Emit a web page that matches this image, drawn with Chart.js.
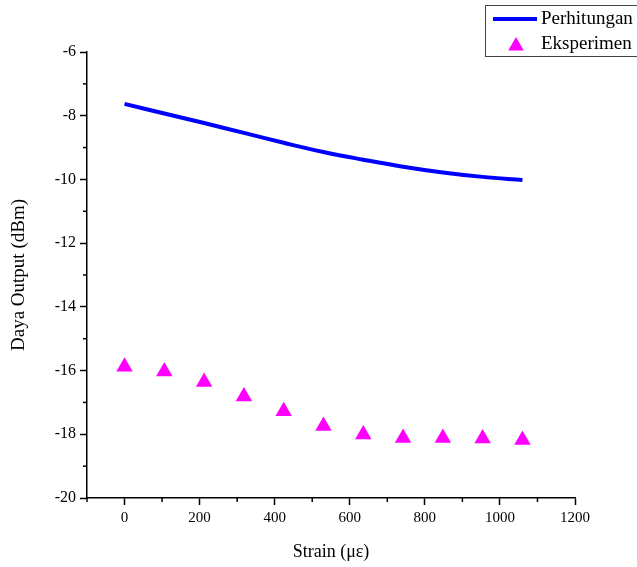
<!DOCTYPE html>
<html>
<head>
<meta charset="utf-8">
<script src="https://cdn.jsdelivr.net/npm/chart.js@4"></script>
<style>
  body { margin: 0; background: #fff; }
  #wrap { width: 637px; height: 567px; }
</style>
</head>
<body>
<div id="wrap"><canvas id="dayaChart" width="637" height="567"></canvas></div>
<script>
// data
const strain = [0, 106, 212, 318, 424, 530, 636, 742, 848, 954, 1060];
const perhitungan = [-7.63, -7.93, -8.23, -8.54, -8.85, -9.14, -9.38, -9.60, -9.78, -9.92, -10.02];
const eksperimen = [-15.88, -16.03, -16.36, -16.81, -17.28, -17.74, -18.01, -18.12, -18.12, -18.13, -18.18];
const xMajorTicks = [0, 200, 400, 600, 800, 1000, 1200];
const xMinorTicks = [-100, 100, 300, 500, 700, 900, 1100];
const yMajorTicks = [-20, -18, -16, -14, -12, -10, -8, -6];
const yMinorTicks = [-19, -17, -15, -13, -11, -9, -7];

const FONT = "'Liberation Serif', 'Times New Roman', serif";

const toPoints = (ys) => strain.map((x, i) => ({ x: x, y: ys[i] }));

// tick kecil (minor) dan legend dengan kotak
const extrasPlugin = {
    id: 'extras',
    afterDraw(chart) {
        const ctx = chart.ctx;
        const xs = chart.scales.x;
        const ys = chart.scales.y;
        ctx.save();
        ctx.strokeStyle = '#000';
        ctx.lineWidth = 1.5;
        xMinorTicks.forEach(v => {
            const px = xs.getPixelForValue(v);
            ctx.beginPath();
            ctx.moveTo(px, xs.top);
            ctx.lineTo(px, xs.top + 4);
            ctx.stroke();
        });
        yMinorTicks.forEach(v => {
            const py = ys.getPixelForValue(v);
            ctx.beginPath();
            ctx.moveTo(ys.right, py);
            ctx.lineTo(ys.right - 4, py);
            ctx.stroke();
        });

        // legend
        ctx.lineWidth = 1;
        ctx.strokeStyle = '#444';
        ctx.strokeRect(485.5, 5.5, 160, 51);
        ctx.strokeStyle = '#0000ff';
        ctx.lineWidth = 4;
        ctx.beginPath();
        ctx.moveTo(493, 19);
        ctx.lineTo(537, 19);
        ctx.stroke();
        ctx.fillStyle = '#ff00ff';
        const r = 9;
        ctx.beginPath();
        ctx.moveTo(516, 46 - r);
        ctx.lineTo(516 + r * Math.sin(2 * Math.PI / 3), 46 + r / 2);
        ctx.lineTo(516 - r * Math.sin(2 * Math.PI / 3), 46 + r / 2);
        ctx.closePath();
        ctx.fill();
        ctx.fillStyle = '#000';
        ctx.font = '19px ' + FONT;
        ctx.textBaseline = 'middle';
        ctx.textAlign = 'left';
        ctx.fillText('Perhitungan', 541, 19);
        ctx.fillText('Eksperimen', 541, 44);
        ctx.restore();
    }
};

const ctx = document.getElementById('dayaChart').getContext('2d');
new Chart(ctx, {
    type: 'scatter',
    data: {
        datasets: [{
            label: 'Perhitungan',
            data: toPoints(perhitungan),
            showLine: true,
            borderColor: '#0000ff',
            borderWidth: 4,
            tension: 0.4,
            pointRadius: 0,
            fill: false
        }, {
            label: 'Eksperimen',
            data: toPoints(eksperimen),
            showLine: false,
            pointStyle: 'triangle',
            pointRadius: 9.5,
            backgroundColor: '#ff00ff',
            borderColor: '#ff00ff',
            borderWidth: 0
        }]
    },
    options: {
        responsive: false,
        animation: false,
        layout: { padding: { top: 52, right: 62, left: 4, bottom: 0 } },
        plugins: {
            legend: { display: false },
            tooltip: { enabled: false }
        },
        scales: {
            x: {
                type: 'linear',
                min: -100,
                max: 1200,
                afterBuildTicks: (scale) => { scale.ticks = xMajorTicks.map(v => ({ value: v })); },
                afterFit: (scale) => { scale.height = 69; },
                border: { display: true, color: '#000', width: 1.5 },
                grid: { drawOnChartArea: false, drawTicks: true, tickLength: 7, color: '#000', tickWidth: 1.5 },
                ticks: { color: '#000', font: { family: FONT, size: 15 }, padding: 4, maxRotation: 0, callback: (v) => String(v) },
                title: { display: true, text: 'Strain (με)', color: '#000', font: { family: FONT, size: 18 }, padding: { top: 8 } }
            },
            y: {
                type: 'linear',
                min: -20,
                max: -6,
                afterBuildTicks: (scale) => { scale.ticks = yMajorTicks.map(v => ({ value: v })); },
                afterFit: (scale) => { scale.width = 83; },
                border: { display: true, color: '#000', width: 1.5 },
                grid: { drawOnChartArea: false, drawTicks: true, tickLength: 7, color: '#000', tickWidth: 1.5 },
                ticks: { color: '#000', font: { family: FONT, size: 16 }, padding: 4, callback: (v) => String(v) },
                title: { display: true, text: 'Daya Output (dBm)', color: '#000', font: { family: FONT, size: 19 }, padding: { top: 4, bottom: 0 } }
            }
        }
    },
    plugins: [extrasPlugin]
});
</script>
</body>
</html>
